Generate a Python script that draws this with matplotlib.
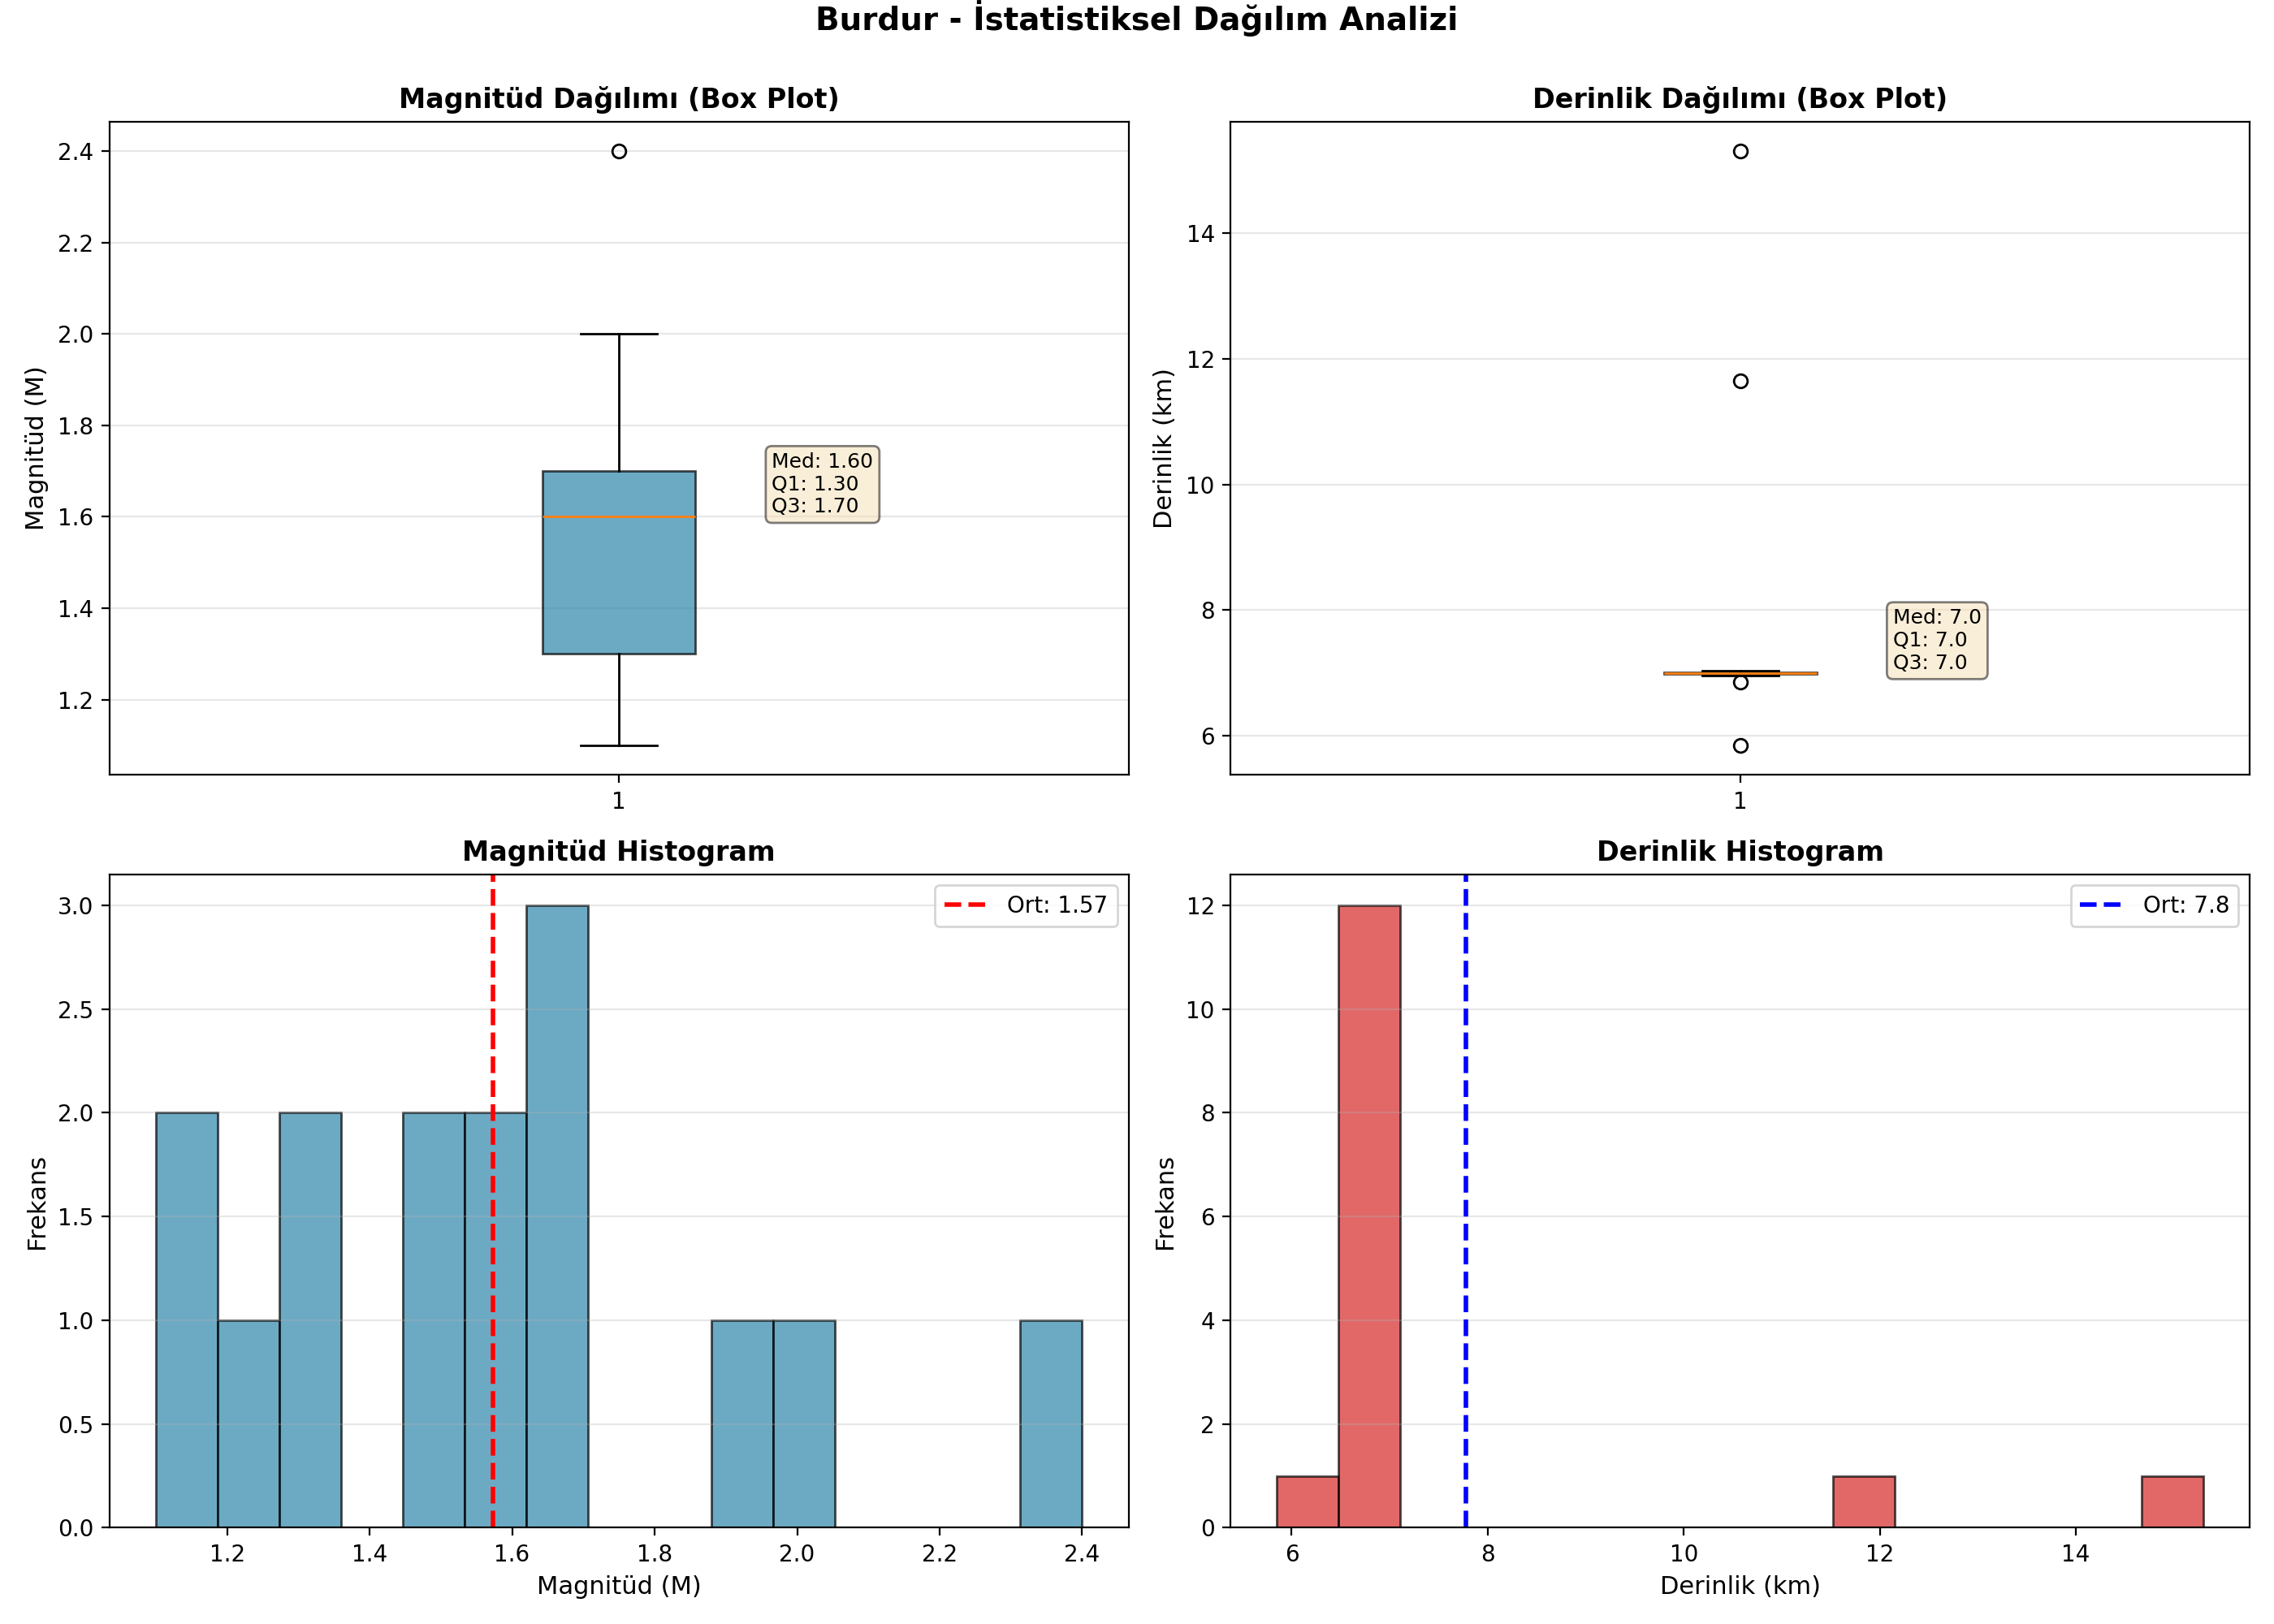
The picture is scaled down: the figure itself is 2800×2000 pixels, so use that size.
import numpy as np
import matplotlib.pyplot as plt

region = "Burdur"

# event magnitudes (M) and depths (km)
magnitudes = [1.1, 1.1, 1.2, 1.3, 1.3, 1.5, 1.5, 1.6, 1.6, 1.7, 1.7, 1.7, 1.9, 2.0, 2.4]
depths = [5.85, 6.85, 6.96, 6.98, 6.99, 7.0, 7.0, 7.0, 7.0, 7.0, 7.01, 7.02, 7.04, 11.65, 15.3]

mag_color = "#2E86AB"
dep_color = "#D62828"


def box_panel(ax, data, title, ylabel, color, fmt):
    bp = ax.boxplot(data, patch_artist=True)
    for box in bp['boxes']:
        box.set_facecolor(color)
        box.set_alpha(0.7)
    med = np.median(data)
    q1 = np.percentile(data, 25)
    q3 = np.percentile(data, 75)
    txt = f"Med: {med:{fmt}}\nQ1: {q1:{fmt}}\nQ3: {q3:{fmt}}"
    ax.text(1.15, med, txt, fontsize=9, va='bottom',
            bbox=dict(boxstyle='round', facecolor='wheat', alpha=0.5))
    ax.set_title(title, fontsize=12, fontweight='bold')
    ax.set_ylabel(ylabel, fontsize=11)
    ax.grid(axis='y', alpha=0.3)


def hist_panel(ax, data, title, xlabel, color, line_color, fmt):
    ax.hist(data, bins=15, color=color, alpha=0.7, edgecolor='black')
    mean = np.mean(data)
    ax.axvline(mean, color=line_color, linestyle='--', linewidth=2,
               label=f"Ort: {mean:{fmt}}")
    ax.set_title(title, fontsize=12, fontweight='bold')
    ax.set_xlabel(xlabel, fontsize=11)
    ax.set_ylabel("Frekans", fontsize=11)
    ax.legend()
    ax.grid(axis='y', alpha=0.3)


def main():
    fig, axes = plt.subplots(2, 2, figsize=(14, 10))
    st = fig.suptitle(f"{region} - İstatistiksel Dağılım Analizi", fontsize=14, fontweight='bold')

    box_panel(axes[0, 0], magnitudes, "Magnitüd Dağılımı (Box Plot)", "Magnitüd (M)", mag_color, ".2f")
    box_panel(axes[0, 1], depths, "Derinlik Dağılımı (Box Plot)", "Derinlik (km)", dep_color, ".1f")
    hist_panel(axes[1, 0], magnitudes, "Magnitüd Histogram", "Magnitüd (M)", mag_color, "red", ".2f")
    hist_panel(axes[1, 1], depths, "Derinlik Histogram", "Derinlik (km)", dep_color, "blue", ".1f")

    plt.tight_layout()
    st.set_y(1.0)
    plt.savefig("out.png", dpi=200)
    plt.close()


if __name__ == "__main__":
    main()
